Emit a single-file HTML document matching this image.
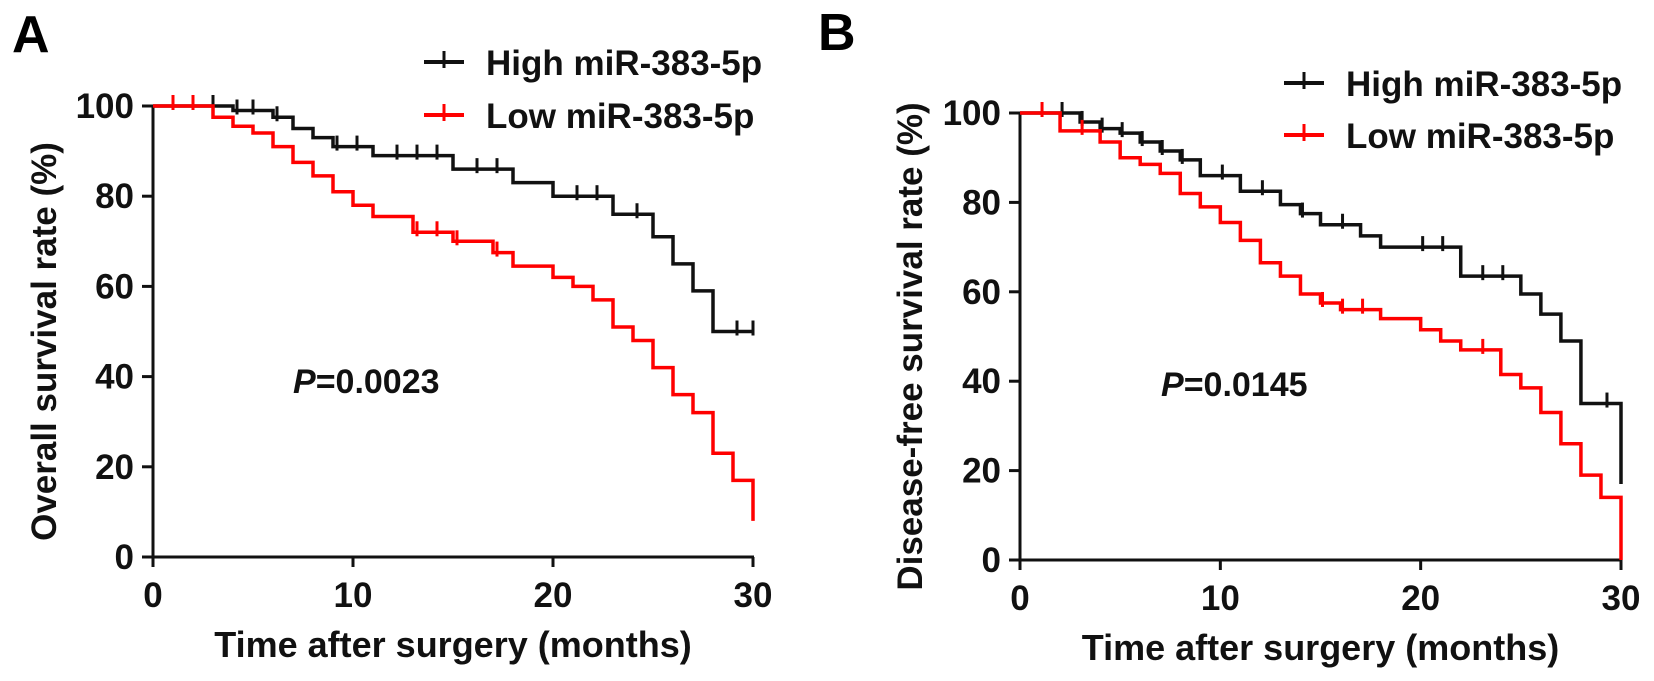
<!DOCTYPE html>
<html><head><meta charset="utf-8">
<style>
html,body{margin:0;padding:0;background:#fff;}
svg{display:block;font-family:"Liberation Sans",Arial,sans-serif;font-weight:bold;}
</style></head>
<body>
<svg id="chart" width="1654" height="681" viewBox="0 0 1654 681" xmlns="http://www.w3.org/2000/svg">
<text x="12" y="52" font-size="52">A</text>
<text x="818" y="50" font-size="52">B</text>
</svg>
<script>
// Panel A data
const xTicks = [0, 10, 20, 30];
const yTicks = [0, 20, 40, 60, 80, 100];
const aHighT = [0, 4, 6, 7, 8, 9, 11, 15, 18, 20, 23, 25, 26, 27, 28];
const aHighS = [100, 99, 97.5, 95, 93, 91, 89, 86, 83, 80, 76, 71, 65, 59, 50];
const aHighCens = [1, 2, 3, 4.2, 5, 6.2, 9.2, 10.2, 12.2, 13.2, 14.2, 16.2, 17.2, 21.2, 22.2, 24.2, 29.2, 30];
const aLowT = [0, 3, 4, 5, 6, 7, 8, 9, 10, 11, 13, 15, 17, 18, 20, 21, 22, 23, 24, 25, 26, 27, 28, 29, 30];
const aLowS = [100, 97.5, 95.5, 94, 91, 87.5, 84.5, 81, 78, 75.5, 72, 70, 67.5, 64.5, 62, 60, 57, 51, 48, 42, 36, 32, 23, 17, 8];
const aLowCens = [1, 2, 13.2, 14.2, 15.2, 17.2];
// Panel B data
const bHighT = [0, 3, 4, 5, 6, 7, 8, 9, 11, 13, 14, 15, 17, 18, 22, 25, 26, 27, 28, 30];
const bHighS = [100, 98, 96.5, 95.5, 93.5, 91.5, 89.5, 86, 82.5, 79.5, 77.5, 75, 72.5, 70, 63.5, 59.5, 55, 49, 35, 17];
const bHighCens = [2.1, 3.1, 4.1, 5.1, 6.1, 7.1, 8.1, 10.1, 12.1, 14.1, 16.1, 20.1, 21.1, 23.1, 24.1, 29.3];
const bLowT = [0, 2, 4, 5, 6, 7, 8, 9, 10, 11, 12, 13, 14, 15, 16, 18, 20, 21, 22, 24, 25, 26, 27, 28, 29, 30];
const bLowS = [100, 96, 93.5, 90, 88.5, 86.5, 82, 79, 75.5, 71.5, 66.5, 63.5, 59.5, 57.5, 56, 54, 51.5, 49, 47, 41.5, 38.5, 33, 26, 19, 14, 0];
const bLowCens = [1.1, 3.1, 15.1, 16.1, 17.1, 23.1];

const NS = "http://www.w3.org/2000/svg";
const svg = document.getElementById('chart');
function mk(tag, attrs, parent) {
  const e = document.createElementNS(NS, tag);
  for (const k in attrs) e.setAttribute(k, attrs[k]);
  (parent || svg).appendChild(e);
  return e;
}
function stepVal(T, S, t) { let v = S[0]; for (let i = 0; i < T.length; i++) if (T[i] <= t) v = S[i]; return v; }

function panel(cfg) {
  const g = mk('g', {});
  
  
  const sx = t => cfg.x0 + (cfg.x1 - cfg.x0) * t / 30;
  const sy = v => cfg.y0 + (cfg.y100 - cfg.y0) * v / 100;
  const ya = mk('line', {x1: sx(0), y1: sy(100) - 1, x2: sx(0), y2: sy(0) + 1, stroke: '#111', 'stroke-width': 3}, g);
  
  
  const xa = mk('line', {x1: sx(0) - 1, y1: sy(0), x2: sx(30) + 1, y2: sy(0), stroke: '#111', 'stroke-width': 3}, g);
  
  
  yTicks.forEach(v => {
    mk('line', {x1: sx(0) - 11, y1: sy(v), x2: sx(0), y2: sy(v), stroke: '#111', 'stroke-width': 3}, g);
    const t = mk('text', {x: sx(0) - 19, y: sy(v) + 12, 'font-size': 35, 'text-anchor': 'end', fill: '#111'}, g);
    t.textContent = v;
    
    
  });
  xTicks.forEach(v => {
    mk('line', {x1: sx(v), y1: sy(0), x2: sx(v), y2: sy(0) + 10, stroke: '#111', 'stroke-width': 3}, g);
    const t = mk('text', {x: sx(v), y: sy(0) + 50, 'font-size': 35, 'text-anchor': 'middle', fill: '#111'}, g);
    t.textContent = v;
    
    
  });
  const xt = mk('text', {x: (sx(0) + sx(30)) / 2, y: sy(0) + 100, 'font-size': 36, 'text-anchor': 'middle', fill: '#111'}, g);
  xt.textContent = 'Time after surgery (months)';
  
  
  const ytx = cfg.ytx, yty = (sy(0) + sy(100)) / 2 + 10;
  const yt = mk('text', {x: ytx, y: yty, 'font-size': 35, 'text-anchor': 'middle', fill: '#111', transform: `rotate(-90 ${ytx} ${yty})`}, g);
  yt.textContent = cfg.ytitle;
  
  
  cfg.series.forEach(s => {
    let d = `M${sx(0)},${sy(s.S[0])}`;
    for (let i = 1; i < s.T.length; i++) d += ` H${sx(s.T[i])} V${sy(s.S[i])}`;
    if (s.T[s.T.length - 1] < 30) d += ` H${sx(30)}`;
    const p = mk('path', {d: d, fill: 'none', stroke: s.color, 'stroke-width': 3.5}, g);
    
    
    s.C.forEach(c => {
      const v = stepVal(s.T, s.S, c);
      const m = mk('line', {x1: sx(c), y1: sy(v) - 11, x2: sx(c), y2: sy(v) + 4, stroke: s.color, 'stroke-width': 3}, g);
      
      
    });
  });
  cfg.series.forEach((s, i) => {
    const ly = cfg.ly + i * cfg.lsp;
    const lg = mk('g', {}, g);
    
    
    mk('line', {x1: cfg.lx, y1: ly, x2: cfg.lx + 40, y2: ly, stroke: s.color, 'stroke-width': 4}, lg);
    mk('line', {x1: cfg.lx + 20, y1: ly - 11, x2: cfg.lx + 20, y2: ly + 6, stroke: s.color, 'stroke-width': 3}, lg);
    const t = mk('text', {x: cfg.lx + 62, y: ly + 13, 'font-size': 35, fill: '#111'}, lg);
    t.textContent = s.label;
  });
  const pt = mk('text', {x: cfg.px, y: cfg.py, 'font-size': 34, fill: '#111'}, g);
  
  
  const ti = mk('tspan', {'font-style': 'italic'}, pt); ti.textContent = 'P';
  const tv = mk('tspan', {}, pt); tv.textContent = '=0.0' + cfg.pval;
}

panel({name: 'panel-a-overall-survival', x0: 153, x1: 753, y0: 557, y100: 106, ytx: 56,
  ytitle: 'Overall survival rate (%)', lx: 424, ly: 62, lsp: 53, px: 293, py: 393, pval: '023',
  series: [
    {name: 'high-mir-383-5p-curve', label: 'High miR-383-5p', color: '#111', T: aHighT, S: aHighS, C: aHighCens},
    {name: 'low-mir-383-5p-curve', label: 'Low miR-383-5p', color: '#f00', T: aLowT, S: aLowS, C: aLowCens}
  ]});
panel({name: 'panel-b-disease-free-survival', x0: 1020, x1: 1621, y0: 560, y100: 113, ytx: 922,
  ytitle: 'Disease-free survival rate (%)', lx: 1284, ly: 83, lsp: 52, px: 1161, py: 396, pval: '145',
  series: [
    {name: 'high-mir-383-5p-curve', label: 'High miR-383-5p', color: '#111', T: bHighT, S: bHighS, C: bHighCens},
    {name: 'low-mir-383-5p-curve', label: 'Low miR-383-5p', color: '#f00', T: bLowT, S: bLowS, C: bLowCens}
  ]});
</script>
</body></html>
